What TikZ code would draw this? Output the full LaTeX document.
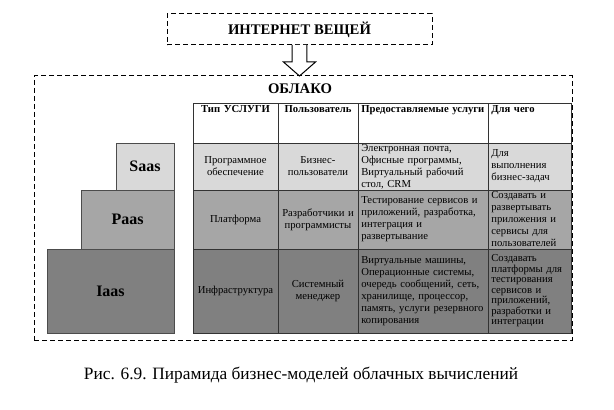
\documentclass[tikz,border=0pt]{standalone}
\usepackage{fontspec}
\setmainfont{Liberation Serif}
\usetikzlibrary{positioning}

\definecolor{saasgray}{HTML}{D9D9D9}
\definecolor{paasgray}{HTML}{A6A6A6}
\definecolor{iaasgray}{HTML}{808080}

\begin{document}
\begin{tikzpicture}[
    x=0.75pt, y=-0.75pt,
    node distance=0pt,
    dashbox/.style={
        draw,
        dash pattern=on 3.5pt off 2.5pt,
        line width=0.75pt,
        inner sep=0pt,
        outer sep=0pt
    },
    pyr/.style={
        draw=black!70,
        line width=0.6pt,
        inner sep=0pt,
        outer sep=0pt,
        font=\bfseries\fontsize{12}{14}\selectfont
    },
    cell/.style={
        draw=black!80,
        line width=0.6pt,
        inner xsep=2.5pt,
        inner ysep=1pt,
        outer sep=0pt,
        font=\fontsize{8}{9}\selectfont
    },
    head/.style={
        cell,
        fill=white,
        minimum height=30pt,
        text height=6pt,
        text depth=22pt,
        font=\bfseries\fontsize{8}{9}\selectfont
    },
    colA/.style={minimum width=63.75pt, text width=58.75pt, align=center},
    colB/.style={minimum width=60pt, text width=55pt, align=center},
    colC/.style={minimum width=97.5pt, text width=92.5pt, align=left},
    colD/.style={minimum width=62.25pt, text width=57.25pt, align=left},
    blockarrow/.style={
        draw,
        fill=white,
        line width=0.75pt,
        line join=miter
    }
]
\useasboundingbox (0,0) rectangle (614,410);

% top box and cloud
\node[dashbox, minimum width=198.75pt, minimum height=23.25pt,
    font=\bfseries\fontsize{11}{13}\selectfont] (inet) at (299.5,29.5)
    {ИНТЕРНЕТ ВЕЩЕЙ};

\node[dashbox, anchor=north west, minimum width=403.5pt, minimum height=198pt]
    (cloud) at (34,76) {};

\node[font=\bfseries\fontsize{11}{13}\selectfont, inner sep=0pt]
    (cloudtitle) at (300,89) {ОБЛАКО};

\draw[blockarrow] ([xshift=-5.6pt]inet.south)
    -- ([xshift=-5.6pt, yshift=10.5pt]inet.south |- cloud.north)
    -- ([xshift=-12pt, yshift=10.5pt]inet.south |- cloud.north)
    -- (inet.south |- cloud.north)
    -- ([xshift=12pt, yshift=10.5pt]inet.south |- cloud.north)
    -- ([xshift=5.6pt, yshift=10.5pt]inet.south |- cloud.north)
    -- ([xshift=5.6pt]inet.south);

% pyramid
\node[pyr, fill=saasgray, anchor=north west, minimum width=43.5pt,
    minimum height=35.25pt] (saas) at (116,143) {Saas};
\node[pyr, fill=paasgray, below=0pt of saas.south east, anchor=north east,
    minimum width=69.75pt, minimum height=44.25pt] (paas) {Paas};
\node[pyr, fill=iaasgray, below=0pt of paas.south east, anchor=north east,
    minimum width=95.25pt, minimum height=63pt] (iaas) {Iaas};

% table: header
\node[head, colA, anchor=north west] (h1) at (193,103) {Тип УСЛУГИ};
\node[head, colB, right=0pt of h1.north east, anchor=north west] (h2) {Пользователь};
\node[head, colC, right=0pt of h2.north east, anchor=north west] (h3) {Предоставляемые услуги};
\node[head, colD, right=0pt of h3.north east, anchor=north west] (h4) {Для чего};

% table: Saas row
\node[cell, colA, fill=saasgray, minimum height=35.25pt,
    below=0pt of h1.south west, anchor=north west] (s1)
    {Программное\\обеспечение};
\node[cell, colB, fill=saasgray, minimum height=35.25pt,
    right=0pt of s1.north east, anchor=north west] (s2)
    {Бизнес-\\пользователи};
\node[cell, colC, fill=saasgray, minimum height=35.25pt,
    right=0pt of s2.north east, anchor=north west] (s3)
    {Электронная почта,\\Офисные программы,\\Виртуальный рабочий\\стол, CRM};
\node[cell, colD, fill=saasgray, minimum height=35.25pt,
    right=0pt of s3.north east, anchor=north west] (s4)
    {Для\\выполнения\\бизнес-задач};

% table: Paas row
\node[cell, colA, fill=paasgray, minimum height=44.25pt,
    below=0pt of s1.south west, anchor=north west] (p1)
    {Платформа};
\node[cell, colB, fill=paasgray, minimum height=44.25pt,
    right=0pt of p1.north east, anchor=north west] (p2)
    {Разработчики и\\программисты};
\node[cell, colC, fill=paasgray, minimum height=44.25pt,
    right=0pt of p2.north east, anchor=north west] (p3)
    {Тестирование сервисов и\\приложений, разработка,\\интеграция и\\развертывание};
\node[cell, colD, fill=paasgray, minimum height=44.25pt,
    right=0pt of p3.north east, anchor=north west] (p4)
    {Создавать и\\развертывать\\приложения и\\сервисы для\\пользователей};

% table: Iaas row
\node[cell, colA, fill=iaasgray, minimum height=63pt,
    below=0pt of p1.south west, anchor=north west] (i1)
    {Инфраструктура};
\node[cell, colB, fill=iaasgray, minimum height=63pt,
    right=0pt of i1.north east, anchor=north west] (i2)
    {Системный\\менеджер};
\node[cell, colC, fill=iaasgray, minimum height=63pt,
    right=0pt of i2.north east, anchor=north west] (i3)
    {Виртуальные машины,\\Операционные системы,\\очередь сообщений, сеть,\\хранилище, процессор,\\память, услуги резервного\\копирования};
\node[cell, colD, fill=iaasgray, minimum height=63pt,
    font=\fontsize{8}{7.9}\selectfont,
    right=0pt of i3.north east, anchor=north west] (i4)
    {Создавать\\платформы для\\тестирования\\сервисов и\\приложений,\\разработки и\\интеграции};

% caption
\node[font=\fontsize{13}{15}\selectfont] (caption) at (301,375)
    {Рис. 6.9. Пирамида бизнес-моделей облачных вычислений};

\end{tikzpicture}
\end{document}
